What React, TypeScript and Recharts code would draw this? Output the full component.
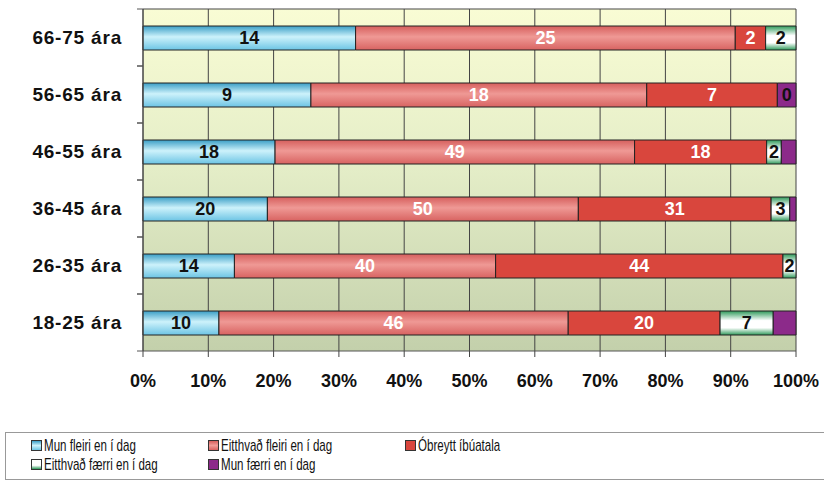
import { BarChart, Bar, XAxis, YAxis, CartesianGrid, Legend, LabelList } from 'recharts';

const groups = ['66-75 ára', '56-65 ára', '46-55 ára', '36-45 ára', '26-35 ára', '18-25 ára'];
const munFleiri = [14, 9, 18, 20, 14, 10];
const eitthvadFleiri = [25, 18, 49, 50, 40, 46];
const obreytt = [2, 7, 18, 31, 44, 20];
const eitthvadFaerri = [2, 0, 2, 3, 2, 7];
const munFaerri = [0, 1, 2, 1, 0, 3];
const xTicks = [0, 0.1, 0.2, 0.3, 0.4, 0.5, 0.6, 0.7, 0.8, 0.9, 1];

const seriesNames = [
  'Mun fleiri en í dag',
  'Eitthvað fleiri en í dag',
  'Óbreytt íbúatala',
  'Eitthvað færri en í dag',
  'Mun færri en í dag',
];

const data = groups.map((g, i) => ({
  group: g,
  a: munFleiri[i],
  b: eitthvadFleiri[i],
  c: obreytt[i],
  d: eitthvadFaerri[i],
  e: munFaerri[i],
}));

const W = 824;
const H = 481;
const M = { top: 9, right: 28, bottom: 89, left: 0 };
const X_AXIS_H = 41;
const band = (H - M.top - M.bottom - X_AXIS_H) / groups.length;

const font = '"Liberation Sans", Arial, sans-serif';
const labelStyle = { fontSize: 18, fontWeight: 'bold' as const, fontFamily: font };

const swatches = [
  'linear-gradient(#3a9ec6, #cdf2fb 50%, #6cc4e4)',
  'linear-gradient(#d65f5d, #f09c98 50%, #d86361)',
  '#d9463d',
  'linear-gradient(#ffffff 60%, #2e9a5a)',
  '#8c2a8a',
];

const YTick = (props: any) => {
  const { x, y, payload } = props;
  return (
    <g>
      <line x1={x + 15} x2={x + 21} y1={y - band / 2} y2={y - band / 2} stroke="#555" />
      <line x1={x + 15} x2={x + 21} y1={y + band / 2} y2={y + band / 2} stroke="#555" />
      <text x={x} y={y} dy="0.35em" textAnchor="end" fill="#111" style={{ fontSize: 19, fontWeight: 'bold', fontFamily: font, letterSpacing: 0.8 }}>
        {payload.value}
      </text>
    </g>
  );
};

// the zero green segment is not drawn, but the original still shows its "0"
// at the end of the bar, so it is put on the purple segment next to it
const ZeroGreenLabel = (p: any) => {
  const { x, y, width, height } = p;
  const row = Math.floor((y + height / 2 - M.top) / band);
  if (eitthvadFaerri[row] !== 0 || !munFaerri[row]) return null;
  return (
    <text x={x + width / 2} y={y + height / 2} dy="0.35em" textAnchor="middle" fill="#111" style={labelStyle}>
      {eitthvadFaerri[row]}
    </text>
  );
};

const LegendBox = () => (
  <div
    style={{
      boxSizing: 'border-box',
      width: '100%',
      height: '100%',
      border: '1px solid #999',
      paddingLeft: 25,
      paddingTop: 3,
      display: 'grid',
      gridTemplateColumns: '177px 197px auto',
      gridAutoRows: 19,
      fontFamily: font,
      fontSize: 17,
      color: '#111',
    }}
  >
    {seriesNames.map((n, i) => (
      <div key={n} style={{ display: 'flex', alignItems: 'center', whiteSpace: 'nowrap' }}>
        <span style={{ width: 9, height: 9, border: '1px solid #333', background: swatches[i], marginRight: 2, display: 'inline-block', flex: 'none' }} />
        <span style={{ display: 'inline-block', transform: 'scaleX(0.68)', transformOrigin: 'left center' }}>{n}</span>
      </div>
    ))}
  </div>
);

export default function App() {
  return (
    <div style={{ position: 'absolute', left: 0, top: 0, background: '#fff' }}>
      <BarChart
        width={W}
        height={H}
        data={data}
        layout="vertical"
        stackOffset="expand"
        margin={M}
        barSize={24}
      >
        <defs>
          <linearGradient id="plotBg" x1="0" y1="0" x2="0" y2="1">
            <stop offset="0%" stopColor="#f9fcd4" />
            <stop offset="45%" stopColor="#e5eec8" />
            <stop offset="100%" stopColor="#c3d0ab" />
          </linearGradient>
          <linearGradient id="gBlue" x1="0" y1="0" x2="0" y2="1">
            <stop offset="0%" stopColor="#3a9ec6" />
            <stop offset="45%" stopColor="#cdf2fb" />
            <stop offset="100%" stopColor="#6cc4e4" />
          </linearGradient>
          <linearGradient id="gPink" x1="0" y1="0" x2="0" y2="1">
            <stop offset="0%" stopColor="#d65f5d" />
            <stop offset="45%" stopColor="#ef9995" />
            <stop offset="100%" stopColor="#d86361" />
          </linearGradient>
          <linearGradient id="gGreen" x1="0" y1="0" x2="0" y2="1">
            <stop offset="0%" stopColor="#2e9a5a" />
            <stop offset="40%" stopColor="#ffffff" />
            <stop offset="70%" stopColor="#ffffff" />
            <stop offset="100%" stopColor="#2e9a5a" />
          </linearGradient>
        </defs>
        <CartesianGrid
          fill="url(#plotBg)"
          stroke="#444"
          horizontalCoordinatesGenerator={(p: any) => [p.offset.top]}
        />
        <XAxis
          type="number"
          domain={[0, 1]}
          ticks={xTicks}
          height={X_AXIS_H}
          tickFormatter={(v: number) => `${Math.round(v * 100)}%`}
          axisLine={{ stroke: '#555' }}
          tickLine={{ stroke: '#444' }}
          tickMargin={17}
          tick={{ fill: '#111', fontSize: 18, fontWeight: 'bold', fontFamily: font }}
        />
        <YAxis
          type="category"
          dataKey="group"
          width={143}
          axisLine={{ stroke: '#444' }}
          tickLine={false}
          tickMargin={15}
          tick={<YTick />}
        />
        <Legend
          layout="horizontal"
          verticalAlign="middle"
          align="center"
          wrapperStyle={{ left: 5, top: 432, width: 830, height: 48 }}
          content={() => <LegendBox />}
        />
        <Bar dataKey="a" name={seriesNames[0]} stackId="s" fill="url(#gBlue)" stroke="#222" isAnimationActive={false}>
          <LabelList dataKey="a" position="center" fill="#111" style={labelStyle} />
        </Bar>
        <Bar dataKey="b" name={seriesNames[1]} stackId="s" fill="url(#gPink)" stroke="#222" isAnimationActive={false}>
          <LabelList dataKey="b" position="center" fill="#fff" style={labelStyle} />
        </Bar>
        <Bar dataKey="c" name={seriesNames[2]} stackId="s" fill="#d9463d" stroke="#222" isAnimationActive={false}>
          <LabelList dataKey="c" position="center" fill="#fff" style={labelStyle} />
        </Bar>
        <Bar dataKey="d" name={seriesNames[3]} stackId="s" fill="url(#gGreen)" stroke="#222" isAnimationActive={false}>
          <LabelList dataKey="d" position="center" fill="#111" style={labelStyle} />
        </Bar>
        <Bar dataKey="e" name={seriesNames[4]} stackId="s" fill="#8c2a8a" stroke="#222" isAnimationActive={false}>
          <LabelList dataKey="e" content={<ZeroGreenLabel />} />
        </Bar>
      </BarChart>
    </div>
  );
}
